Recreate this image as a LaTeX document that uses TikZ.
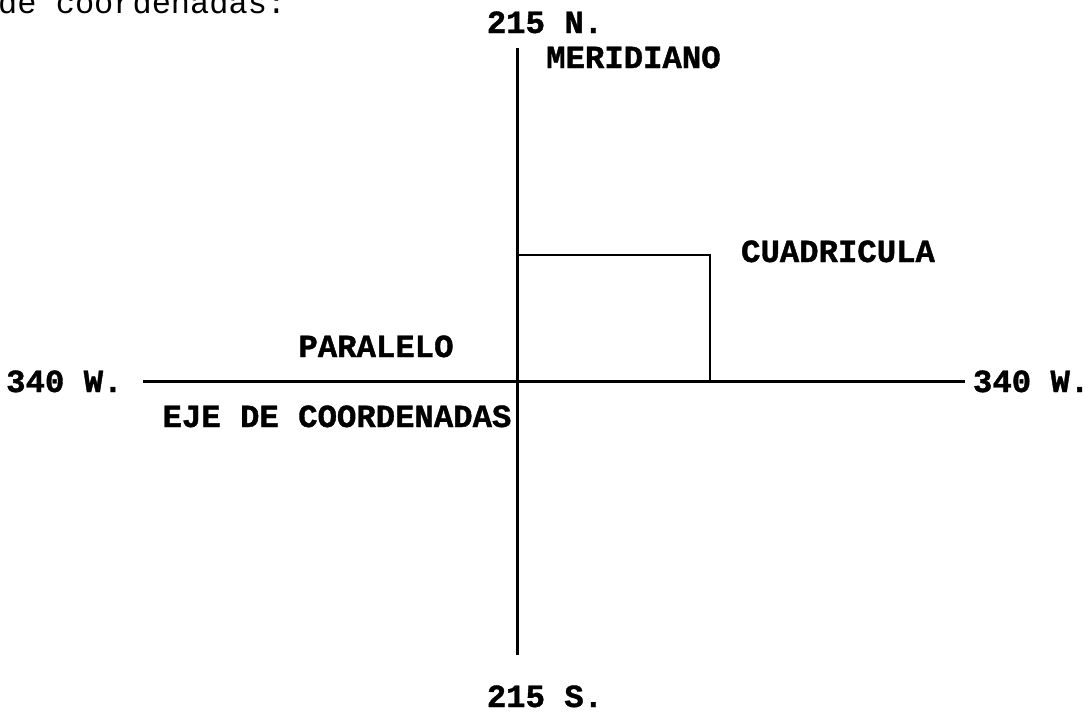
\documentclass[tikz,border=0pt]{standalone}
\usepackage{fontspec}
\setmainfont{Liberation Mono}
\newfontfamily\lblfont{Liberation Mono Bold}[FakeBold=1.2]
\begin{document}
\begin{tikzpicture}[x=1pt,y=-1pt,
  lbl/.style={inner sep=0pt,font=\fontsize{32.3}{32.3}\lblfont},
  txt/.style={inner sep=0pt,font=\fontsize{32}{32}\selectfont},
  axis/.style={line width=3pt},
  cell/.style={line width=2.6pt}]
\useasboundingbox (0,0) rectangle (1090,712);
% top text (cut)
\node[txt,anchor=base west] (top) at (-2,13) {de coordenadas:};
% labels
\node[lbl,anchor=base] (n) at (545,33) {215 N.};
\node[lbl,anchor=base west] (mer) at (546,68) {MERIDIANO};
\node[lbl,anchor=base] (s) at (545,707) {215 S.};
\node[lbl,anchor=base west] (wl) at (6,392) {340 W.};
\node[lbl,anchor=base east] (wr) at (1089.5,392) {340 W.};
\node[lbl,anchor=base] (par) at (376,357) {PARALELO};
\node[lbl,anchor=base] (eje) at (337,427) {EJE DE COORDENADAS};
\node[lbl,anchor=base] (cua) at (838,262) {CUADRICULA};
% axes
\coordinate (top-end) at (517,48);
\coordinate (bot-end) at (517,655);
\coordinate (left-end) at (143,381);
\coordinate (right-end) at (965,381);
\coordinate (c1) at (517,255);
\coordinate (c2) at (710,255);
\coordinate (c3) at (710,381);
\draw[axis] (top-end) -- (bot-end);
\draw[axis] (left-end) -- (right-end);
\draw[cell] (c1) -- (c2) -- (c3);
\end{tikzpicture}
\end{document}
